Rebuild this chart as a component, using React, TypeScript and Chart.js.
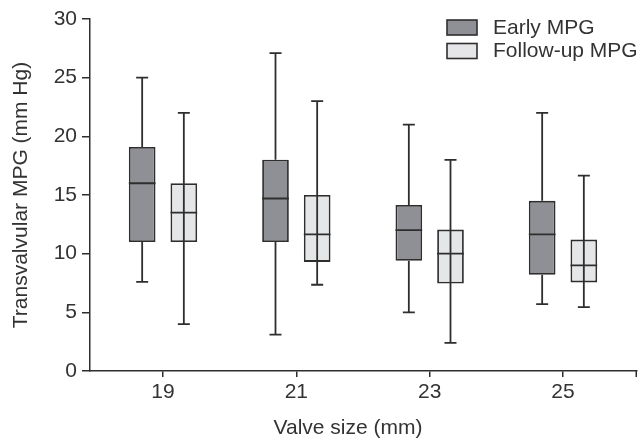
import { useEffect, useRef } from 'react';
import { Chart, registerables } from 'chart.js';

Chart.register(...registerables);

// ---- data ----
const valveSizes = [19, 21, 23, 25];
const xTickValues = [19, 21, 23, 25];
const seriesLabels = ['Early MPG', 'Follow-up MPG'];
const xTitle = 'Valve size (mm)';
const yTitle = 'Transvalvular MPG (mm Hg)';

const earlyMin = [7.6, 3.1, 5.0, 5.7];
const earlyQ1 = [11.0, 11.0, 9.4, 8.2];
const earlyMedian = [16.0, 14.7, 12.0, 11.65];
const earlyQ3 = [19.1, 18.0, 14.15, 14.5];
const earlyMax = [25.0, 27.1, 21.0, 22.0];

const followMin = [4.0, 7.35, 2.4, 5.45];
const followQ1 = [11.0, 9.3, 7.45, 7.55];
const followMedian = [13.5, 11.65, 10.0, 9.0];
const followQ3 = [16.0, 15.0, 12.05, 11.2];
const followMax = [22.0, 23.0, 18.0, 16.65];

const yMin = 0;
const yMax = 30;
const yStep = 5;
const xMin = 17.905;
const xMax = 26.11;

// ---- styles ----
const FONT = '"Liberation Sans", Arial, Helvetica, sans-serif';
const INK = '#2e2e2e';
const TEXT = '#333333';
const FILLS = ['#8f9095', '#e5e6e8'];
const LINE_W = 1.8;

const boxPlugin = {
  id: 'boxWhiskers',
  afterDatasetsDraw(chart: any) {
    const ctx = chart.ctx;
    const ys = chart.scales.y;
    chart.data.datasets.forEach((ds: any, di: number) => {
      const meta = chart.getDatasetMeta(di);
      meta.data.forEach((el: any, i: number) => {
        const { x, width } = el.getProps(['x', 'width'], true);
        const pMin = ys.getPixelForValue(ds.whiskerMin[i]);
        const pMax = ys.getPixelForValue(ds.whiskerMax[i]);
        const pQ1 = ys.getPixelForValue(ds.data[i].y[0]);
        const pQ3 = ys.getPixelForValue(ds.data[i].y[1]);
        const pMed = ys.getPixelForValue(ds.median[i]);
        ctx.save();
        ctx.strokeStyle = INK;
        ctx.lineWidth = LINE_W;
        ctx.beginPath();
        if (ds.whiskerThrough) {
          ctx.moveTo(x, pMax);
          ctx.lineTo(x, pMin);
        } else {
          ctx.moveTo(x, pMax);
          ctx.lineTo(x, pQ3);
          ctx.moveTo(x, pQ1);
          ctx.lineTo(x, pMin);
        }
        const cap = 6;
        ctx.moveTo(x - cap, pMax);
        ctx.lineTo(x + cap, pMax);
        ctx.moveTo(x - cap, pMin);
        ctx.lineTo(x + cap, pMin);
        ctx.moveTo(x - width / 2, pMed);
        ctx.lineTo(x + width / 2, pMed);
        ctx.stroke();
        ctx.restore();
      });
    });
  },
  afterDraw(chart: any) {
    const ctx = chart.ctx;
    const area = chart.chartArea;
    ctx.save();
    // end tick of x axis
    ctx.strokeStyle = INK;
    ctx.lineWidth = 1.5;
    ctx.beginPath();
    ctx.moveTo(area.right - 0.75, area.bottom);
    ctx.lineTo(area.right - 0.75, area.bottom + 6);
    ctx.stroke();
    // legend
    ctx.font = `21px ${FONT}`;
    ctx.textBaseline = 'middle';
    ctx.textAlign = 'left';
    chart.data.datasets.forEach((ds: any, di: number) => {
      const top = 20 + di * 23.5;
      ctx.fillStyle = ds.backgroundColor;
      ctx.fillRect(447, top, 30, 15);
      ctx.strokeStyle = INK;
      ctx.lineWidth = 1.6;
      ctx.strokeRect(447, top, 30, 15);
      ctx.fillStyle = TEXT;
      ctx.fillText(ds.label, 493, top + 8);
    });
    // axis titles
    ctx.textAlign = 'center';
    ctx.fillText(xTitle, 348, 428);
    ctx.translate(21, 195);
    ctx.rotate(-Math.PI / 2);
    ctx.fillText(yTitle, 0, 0);
    ctx.restore();
  },
};

export default function App() {
  const ref = useRef<HTMLCanvasElement>(null);
  useEffect(() => {
    document.body.style.margin = '0';
    if (!ref.current) return;
    const chart = new Chart(ref.current, {
      type: 'bar',
      data: {
        datasets: [
          {
            label: seriesLabels[0],
            data: valveSizes.map((v, i) => ({ x: v, y: [earlyQ1[i], earlyQ3[i]] })) as any,
            backgroundColor: FILLS[0],
            borderColor: INK,
            borderWidth: LINE_W,
            borderSkipped: false,
            categoryPercentage: 0.625,
            barPercentage: 0.64,
            whiskerMin: earlyMin,
            whiskerMax: earlyMax,
            median: earlyMedian,
            whiskerThrough: false,
          } as any,
          {
            label: seriesLabels[1],
            data: valveSizes.map((v, i) => ({ x: v, y: [followQ1[i], followQ3[i]] })) as any,
            backgroundColor: FILLS[1],
            borderColor: INK,
            borderWidth: LINE_W,
            borderSkipped: false,
            categoryPercentage: 0.625,
            barPercentage: 0.64,
            whiskerMin: followMin,
            whiskerMax: followMax,
            median: followMedian,
            whiskerThrough: true,
          } as any,
        ],
      },
      options: {
        responsive: true,
        maintainAspectRatio: false,
        animation: false,
        layout: { padding: { left: 0, right: 4, top: 19, bottom: 0 } },
        plugins: { legend: { display: false }, tooltip: { enabled: false } },
        scales: {
          x: {
            type: 'linear',
            offset: false,
            min: xMin,
            max: xMax,
            afterBuildTicks: (scale: any) => {
              scale.ticks = xTickValues.map((v) => ({ value: v }));
            },
            afterFit: (scale: any) => {
              scale.height = 69;
            },
            ticks: {
              font: { size: 21, family: FONT },
              color: TEXT,
              padding: 3,
              maxRotation: 0,
              autoSkip: false,
              callback: (v: any) => String(v),
            },
            grid: { display: true, offset: false, drawOnChartArea: false, drawTicks: true, tickLength: 6, color: INK, lineWidth: 1.5 },
            border: { display: true, color: INK, width: 1.5 },
          },
          y: {
            min: yMin,
            max: yMax,
            afterFit: (scale: any) => {
              scale.width = 90;
            },
            ticks: {
              stepSize: yStep,
              font: { size: 21, family: FONT },
              color: TEXT,
              padding: 5,
            },
            grid: { display: true, drawOnChartArea: false, drawTicks: true, tickLength: 8, color: INK, lineWidth: 1.5 },
            border: { display: true, color: INK, width: 1.5 },
          },
        },
      },
      plugins: [boxPlugin],
    } as any);
    return () => chart.destroy();
  }, []);
  return (
    <div style={{ position: 'fixed', left: 0, top: 0, width: 641, height: 440, background: '#fff' }}>
      <canvas ref={ref} />
    </div>
  );
}
